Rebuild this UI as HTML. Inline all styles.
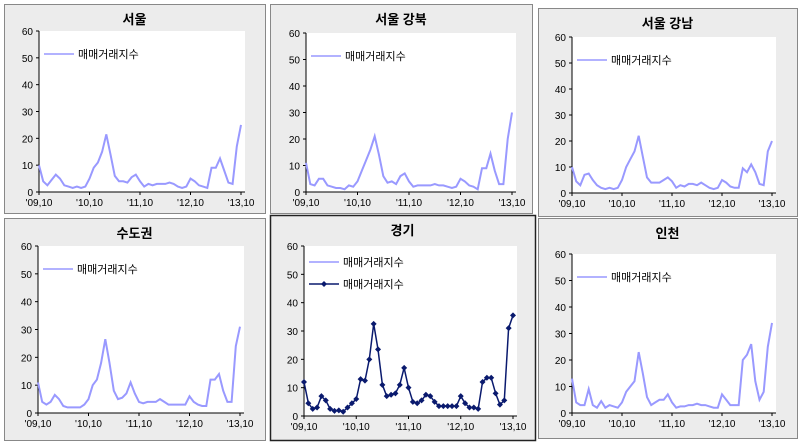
<!DOCTYPE html>
<html><head><meta charset="utf-8"><style>
body{margin:0;background:#fff;width:800px;height:443px;overflow:hidden}
svg text{font-family:"Liberation Sans","Noto Sans CJK KR",sans-serif}
</style></head><body>
<svg id="s" width="800" height="443" xmlns="http://www.w3.org/2000/svg"></svg>
<script>
const P=[
 {fx:4,fy:4,fw:261,fh:209,t:"서울",l:39,tp:31,b:192,r:241,
  d:[10,4,2.5,4.5,6.5,5,2.5,2,1.5,2,1.5,2,5,9,11,15,21.5,14,6,4,4,3.5,5.5,6.5,4,2,3,2.5,3,3,3,3.5,3,2,1.5,2,5,4,2.5,2,1.5,9,9,12.5,8,3.5,3,17,25]},
 {fx:270,fy:4,fw:262,fh:209,t:"서울 강북",l:306,tp:33,b:192,r:512,
  d:[11,3,2.5,5,5,2.5,2,1.5,1.5,1,2.5,2,4,8,12,16,21,14,6,3.5,4,3,6,7,4,2,2.5,2.5,2.5,2.5,3,2.5,2.5,2,1.5,2,5,4,2.5,2,1,9,9,14.5,8,3,3,20,30]},
 {fx:538,fy:8,fw:259,fh:208,t:"서울 강남",l:572,tp:37,b:193,r:772,
  d:[10,4.5,3,7,7.5,5,3,2,1.5,2,1.5,2,5,10,13,16,22,14,6,4,4,4,5,6,4.5,2,3,2.5,3.5,3.5,3,4,3,2,1.5,2,5,4,2.5,2,2,9.5,8,11,8,3.5,3,16,20]},
 {fx:4,fy:218,fw:261,fh:222,t:"수도권",l:38,tp:246,b:413,r:240,
  d:[11,4,3,4,6.5,5,2.5,2,2,2,2,3,5,10,12,18,26.5,18,8,5,5.5,7,11,7,4,3.5,4,4,4,5,4,3,3,3,3,3,6,4,3,2.5,2.5,12,12,14,8,4,4,24,31]},
 {fx:270,fy:215,fw:265,fh:225,t:"경기",l:304,tp:246,b:416,r:513,dark:1,
  d:[12,4.5,2.5,3,7,5.5,2.5,1.8,2,1.5,3,4.5,6,13,12.5,20,32.5,23.5,11,7,7.5,8,11,17,10,5,4.5,5.5,7.5,7,5,3.5,3.5,3.5,3.5,3.5,7,4.5,3,3,2.5,12,13.5,13.5,8,4,5.5,31,35.5]},
 {fx:538,fy:218,fw:259,fh:220,t:"인천",l:572,tp:254,b:413,r:772,
  d:[13,4,3,3,9,3,2,4.5,2,3,2.5,2,4,8,10,12,23,15,6,3,4,5,5,7,4,2,2.5,2.5,3,3,3.5,3,3,2.5,2,2,7,5,3,3,3,20,22,26,12,5,8,25,34]}
];
let h='';
for(const p of P){
 h+=`<rect x="${p.fx+.5}" y="${p.fy+.5}" width="${p.fw}" height="${p.fh}" fill="#ececec" stroke="${p.dark?'#222':'#888'}" stroke-width="${p.dark?1.5:1}"/>`;
 h+=`<text x="${p.fx+p.fw/2}" y="${p.fy+20}" font-size="13" font-weight="bold" text-anchor="middle">${p.t}</text>`;
 h+=`<rect x="${p.l}" y="${p.tp}" width="${p.r-p.l+4}" height="${p.b-p.tp}" fill="#fff"/>`;
 const y=v=>p.b-(p.b-p.tp)*v/60;
 h+=`<line x1="${p.l}" y1="${p.tp}" x2="${p.l}" y2="${p.b}" stroke="#000"/>`;
 h+=`<line x1="${p.l}" y1="${p.b}" x2="${p.r+4}" y2="${p.b}" stroke="#000"/>`;
 for(let v=0;v<=60;v+=10){h+=`<line x1="${p.l-3}" x2="${p.l}" y1="${y(v)}" y2="${y(v)}" stroke="#000"/><text x="${p.l-6}" y="${y(v)+4}" font-size="10" text-anchor="end">${v}</text>`;}
 const st=(p.r-p.l)/48;
 ["'09,10","'10,10","'11,10","'12,10","'13,10"].forEach((s,i)=>{const x=p.l+i*12*st;h+=`<line x1="${x}" x2="${x}" y1="${p.b}" y2="${p.b+3}" stroke="#000"/><text x="${x}" y="${p.b+14}" font-size="10" text-anchor="middle">${s}</text>`;});
 const pts=p.d.map((v,i)=>`${(p.l+i*st).toFixed(1)},${y(v).toFixed(1)}`).join(' ');
 const lx=p.l+5, ly=p.tp+(p.dark?16:23);
 h+=`<line x1="${lx}" x2="${lx+30}" y1="${ly}" y2="${ly}" stroke="#9999ff" stroke-width="1.5"/><text x="${lx+34}" y="${ly+4}" font-size="11">매매거래지수</text>`;
 if(p.dark){
  h+=`<polyline points="${pts}" fill="none" stroke="#0a1a6e" stroke-width="1.5"/>`;
  p.d.forEach((v,i)=>{const x=p.l+i*st,yy=y(v);h+=`<path d="M${x} ${yy-3}L${x+3} ${yy}L${x} ${yy+3}L${x-3} ${yy}Z" fill="#0a1a6e"/>`;});
  const l2=ly+22;
  h+=`<line x1="${lx}" x2="${lx+30}" y1="${l2}" y2="${l2}" stroke="#0a1a6e" stroke-width="1.5"/><path d="M${lx+15} ${l2-3}L${lx+18} ${l2}L${lx+15} ${l2+3}L${lx+12} ${l2}Z" fill="#0a1a6e"/><text x="${lx+34}" y="${l2+4}" font-size="11">매매거래지수</text>`;
 } else h+=`<polyline points="${pts}" fill="none" stroke="#9999ff" stroke-width="2"/>`;
}
document.getElementById('s').innerHTML=h;
</script>
</body></html>
